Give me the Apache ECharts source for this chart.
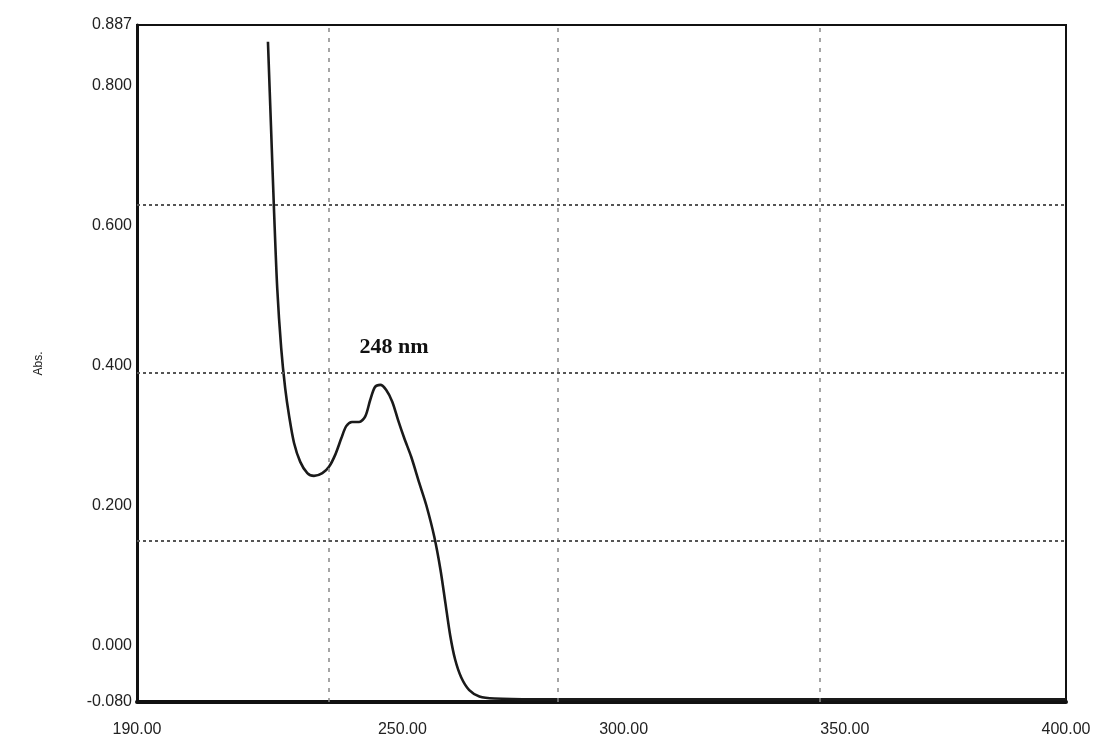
<!DOCTYPE html>
<html>
<head>
<meta charset="utf-8">
<script src="https://cdn.jsdelivr.net/npm/echarts@6/dist/echarts.min.js"></script>
<style>html,body{margin:0;padding:0;background:#fff}#c{width:1097px;height:747px}</style>
</head>
<body>
<div id="c"></div>
<script>
// Wavelength (nm) and absorbance
const wavelength = [219.6, 220.3, 221.0, 221.7, 222.6, 223.5, 224.4, 225.5, 226.9, 228.5, 230.0, 231.9, 233.4, 234.8, 236.2, 237.3, 238.6, 240.2, 241.6, 242.7, 243.8, 245.0, 246.3, 247.7, 249.0, 250.4, 252.0, 253.8, 255.4, 257.2, 258.6, 259.7, 260.8, 261.9, 263.3, 265.1, 267.4, 270.8, 280.0, 300.0, 350.0, 400.0];
const absorbance = [0.863, 0.740, 0.618, 0.511, 0.425, 0.368, 0.328, 0.290, 0.263, 0.247, 0.243, 0.247, 0.256, 0.273, 0.297, 0.314, 0.320, 0.320, 0.328, 0.351, 0.370, 0.373, 0.366, 0.349, 0.323, 0.297, 0.270, 0.233, 0.201, 0.156, 0.109, 0.062, 0.015, -0.019, -0.045, -0.063, -0.072, -0.075, -0.076, -0.076, -0.076, -0.076];
const xTickLabels = [190, 250, 300, 350, 400];
const yTickLabels = [-0.080, 0.000, 0.200, 0.400, 0.600, 0.800, 0.887];
const vGridLines = [233.4, 285.0, 344.3];
const hGridLines = [0.633, 0.394, 0.154];
const peakLabel = '248 nm';
const peakLabelPos = [248.1, 0.426];

const chart = echarts.init(document.getElementById('c'));
const pts = wavelength.map((w, i) => [w, absorbance[i]]);
chart.setOption({
  animation: false,
  backgroundColor: '#fff',
  grid: { left: 137, right: 31, top: 25, bottom: 45, show: true, borderColor: '#111', borderWidth: 2, backgroundColor: 'transparent' },
  xAxis: {
    type: 'value', min: 190, max: 400,
    axisLine: { show: true, onZero: false, lineStyle: { color: '#111', width: 4 } },
    axisTick: { show: false },
    splitLine: { show: false },
    axisLabel: {
      customValues: xTickLabels, margin: 20, color: '#222', fontSize: 16,
      fontFamily: 'Liberation Sans, Arial, sans-serif',
      formatter: v => Number(v).toFixed(2)
    }
  },
  yAxis: {
    type: 'value', min: -0.08, max: 0.887,
    name: 'Abs.', nameLocation: 'middle', nameGap: 92, nameRotate: 90,
    nameTextStyle: { color: '#222', fontSize: 12, fontFamily: 'Liberation Sans, Arial, sans-serif' },
    axisLine: { show: true, onZero: false, lineStyle: { color: '#111', width: 3 } },
    axisTick: { show: false },
    splitLine: { show: false },
    axisLabel: {
      customValues: yTickLabels, margin: 5, color: '#222', fontSize: 16,
      fontFamily: 'Liberation Sans, Arial, sans-serif',
      formatter: v => Number(v).toFixed(3)
    }
  },
  series: [{
    type: 'line',
    data: pts,
    smooth: 0.3,
    showSymbol: false,
    lineStyle: { color: '#1a1a1a', width: 2.6 },
    markLine: {
      silent: true, symbol: 'none', label: { show: false },
      data: vGridLines.map(v => ({ xAxis: v, lineStyle: { color: '#888', type: [4, 6], width: 1.5 } }))
        .concat(hGridLines.map(v => ({ yAxis: v, lineStyle: { color: '#555', type: [3, 3], width: 2 } })))
    },
    markPoint: {
      silent: true,
      symbol: 'circle', symbolSize: 1,
      itemStyle: { color: 'rgba(0,0,0,0)' },
      label: {
        show: true, position: 'inside', formatter: peakLabel,
        color: '#111', fontSize: 22, fontWeight: 'bold',
        fontFamily: 'Liberation Serif, Times New Roman, serif'
      },
      data: [{ coord: peakLabelPos }]
    }
  }]
});
</script>
</body>
</html>
